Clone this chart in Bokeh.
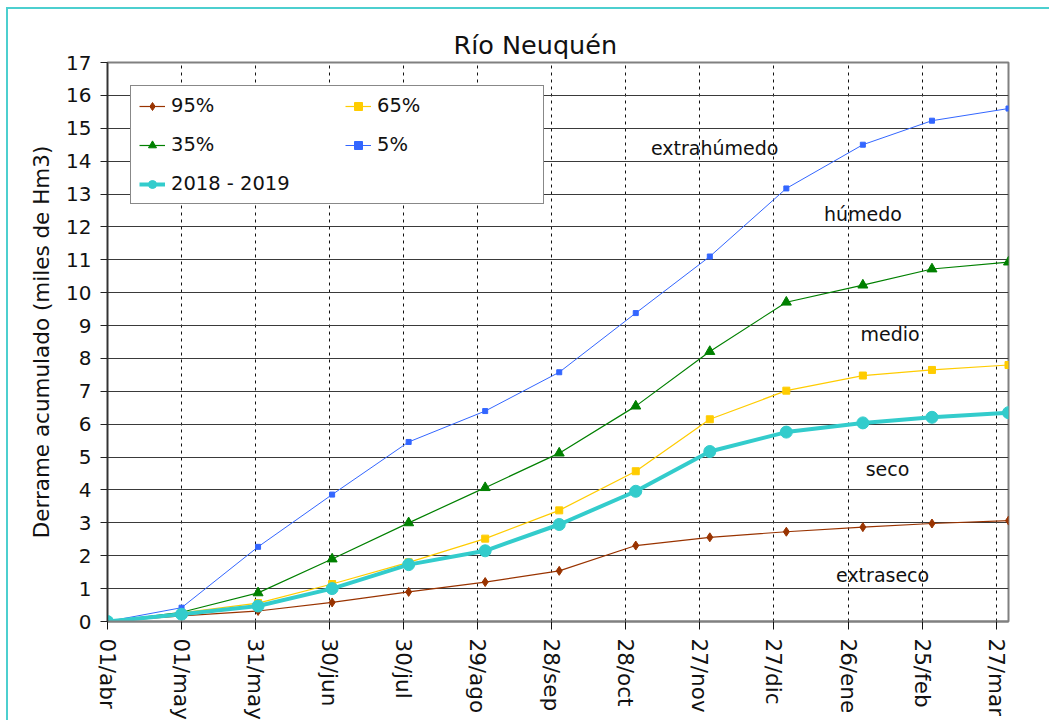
import pandas as pd
from bokeh.plotting import figure
from bokeh.models import Range1d, FixedTicker, Legend, LegendItem, ColumnDataSource
from bokeh.core.properties import value
from bokeh.embed import file_html
from bokeh.resources import INLINE

FONT = "DejaVu Sans"

start_date = "2018-04-01"
end_date = "2019-04-01"
dates = ["2018-04-01", "2018-05-01", "2018-06-01", "2018-07-01", "2018-08-01",
         "2018-09-01", "2018-10-01", "2018-11-01", "2018-12-01", "2019-01-01",
         "2019-02-01", "2019-03-01", "2019-04-01"]
p95 = [0, 0.17, 0.32, 0.58, 0.90, 1.20, 1.54, 2.31, 2.56, 2.73, 2.87, 2.98, 3.07]
p65 = [0, 0.26, 0.56, 1.14, 1.80, 2.52, 3.38, 4.57, 6.15, 7.02, 7.48, 7.65, 7.80]
p35 = [0, 0.28, 0.87, 1.90, 3.00, 4.07, 5.12, 6.55, 8.21, 9.71, 10.23, 10.72, 10.93]
p5 = [0, 0.42, 2.27, 3.86, 5.46, 6.40, 7.58, 9.38, 11.10, 13.17, 14.50, 15.23, 15.60]
obs = [0, 0.22, 0.47, 1.00, 1.73, 2.15, 2.95, 3.96, 5.17, 5.76, 6.04, 6.21, 6.35]

tick_dates = ["2018-04-01", "2018-05-01", "2018-05-31", "2018-06-30", "2018-07-30",
              "2018-08-29", "2018-09-28", "2018-10-28", "2018-11-27", "2018-12-27",
              "2019-01-26", "2019-02-25", "2019-03-27"]
tick_labels = ["01/abr", "01/may", "31/may", "30/jun", "30/jul", "29/ago", "28/sep",
               "28/oct", "27/nov", "27/dic", "26/ene", "25/feb", "27/mar"]
y_ticks = list(range(0, 18))

band_labels = ["extrahúmedo", "húmedo", "medio", "seco", "extraseco"]
band_dates = ["2018-12-03", "2019-02-01", "2019-02-12", "2019-02-11", "2019-02-09"]
band_y = [14.41, 12.40, 8.74, 4.63, 1.40]

t0 = pd.Timestamp(start_date)
def days(ds):
    return [int((pd.Timestamp(d) - t0).days) for d in ds]

x = days(dates)
xt = days(tick_dates)
x_end = days([end_date])[0]

p = figure(width=1043, height=713, output_backend="svg", toolbar_location=None,
           x_range=Range1d(0, x_end), y_range=Range1d(0, 17),
           min_border_left=99, min_border_right=43, min_border_top=53, min_border_bottom=98,
           title="Río Neuquén")
p.styles = {"border-top": "2px solid #4ccfcf", "border-left": "2px solid #4ccfcf",
            "margin-left": "6px", "margin-top": "7px"}
p.background_fill_color = "white"
p.border_fill_color = "white"
p.outline_line_color = "#808080"
p.outline_line_width = 2

p.title.text_font = FONT
p.title.text_font_size = "25.5px"
p.title.text_font_style = "normal"
p.title.align = "left"
p.title.offset = 346
p.title.standoff = 5
p.title.text_color = "#111111"

p.xaxis.ticker = FixedTicker(ticks=xt)
p.xaxis.major_label_overrides = {t: l for t, l in zip(xt, tick_labels)}
p.xaxis.major_label_orientation = "vertical"
p.xaxis.major_label_text_font = FONT
p.xaxis.major_label_text_font_size = "21.5px"
p.xaxis.major_label_text_color = "#111111"
p.xaxis.major_label_standoff = 9
p.xaxis.major_tick_in = 0
p.xaxis.major_tick_out = 8
p.xaxis.major_tick_line_color = "#111111"
p.xaxis.minor_tick_line_color = None
p.xaxis.axis_line_color = "#808080"
p.xaxis.axis_line_width = 2

p.yaxis.ticker = FixedTicker(ticks=y_ticks)
p.yaxis.major_label_text_font = FONT
p.yaxis.major_label_text_font_size = "20px"
p.yaxis.major_label_text_color = "#111111"
p.yaxis.major_label_standoff = 9
p.yaxis.major_tick_in = 0
p.yaxis.major_tick_out = 7
p.yaxis.major_tick_line_color = "#222222"
p.yaxis.minor_tick_line_color = None
p.yaxis.axis_line_color = "#333333"
p.yaxis.axis_line_width = 1.5
p.yaxis.axis_label = "Derrame acumulado (miles de Hm3)"
p.yaxis.axis_label_text_font = FONT
p.yaxis.axis_label_text_font_size = "21.5px"
p.yaxis.axis_label_text_font_style = "normal"
p.yaxis.axis_label_text_color = "#111111"
p.yaxis.axis_label_standoff = 9

p.xgrid.ticker = FixedTicker(ticks=xt)
p.xgrid.grid_line_color = "#111111"
p.xgrid.grid_line_dash = "3 4"
p.xgrid.grid_line_width = 1
p.ygrid.ticker = FixedTicker(ticks=y_ticks)
p.ygrid.grid_line_color = "#3a3a3a"
p.ygrid.grid_line_width = 1

series = [
    ("95%", p95, "#993300", 1.2, "diamond", 9),
    ("65%", p65, "#ffcc00", 1.2, "square", 7),
    ("35%", p35, "#008000", 1.2, "triangle", 10),
    ("5%", p5, "#3366ff", 1.0, "square", 5),
    ("2018 - 2019", obs, "#33cccc", 4.0, "circle", 12),
]

items = []
for label, vals, color, lw, marker, size in series:
    src = ColumnDataSource(dict(x=x, y=vals))
    r1 = p.line("x", "y", source=src, line_color=color, line_width=lw)
    r2 = p.scatter("x", "y", source=src, marker=marker, size=size,
                   fill_color=color, line_color=color)
    items.append(LegendItem(label=label, renderers=[r1, r2]))

bsrc = ColumnDataSource(dict(x=days(band_dates), y=band_y, t=band_labels))
p.text("x", "y", text="t", source=bsrc, text_font=value(FONT), text_font_size="19px",
       text_align="center", text_baseline="middle", text_color="#111111")

legend = Legend(items=items, orientation="horizontal", ncols=2,
                location=(23, 417))
legend.label_text_font = FONT
legend.label_text_font_size = "19.5px"
legend.label_text_color = "#111111"
legend.border_line_color = "#111111"
legend.border_line_width = 1
legend.background_fill_color = "white"
legend.background_fill_alpha = 1
legend.glyph_width = 26
legend.label_width = 158
legend.label_height = 23
legend.padding = 8
legend.spacing = 16
legend.label_standoff = 6
legend.margin = 0
p.add_layout(legend)

open("out.html", "w").write(file_html(p, INLINE))
